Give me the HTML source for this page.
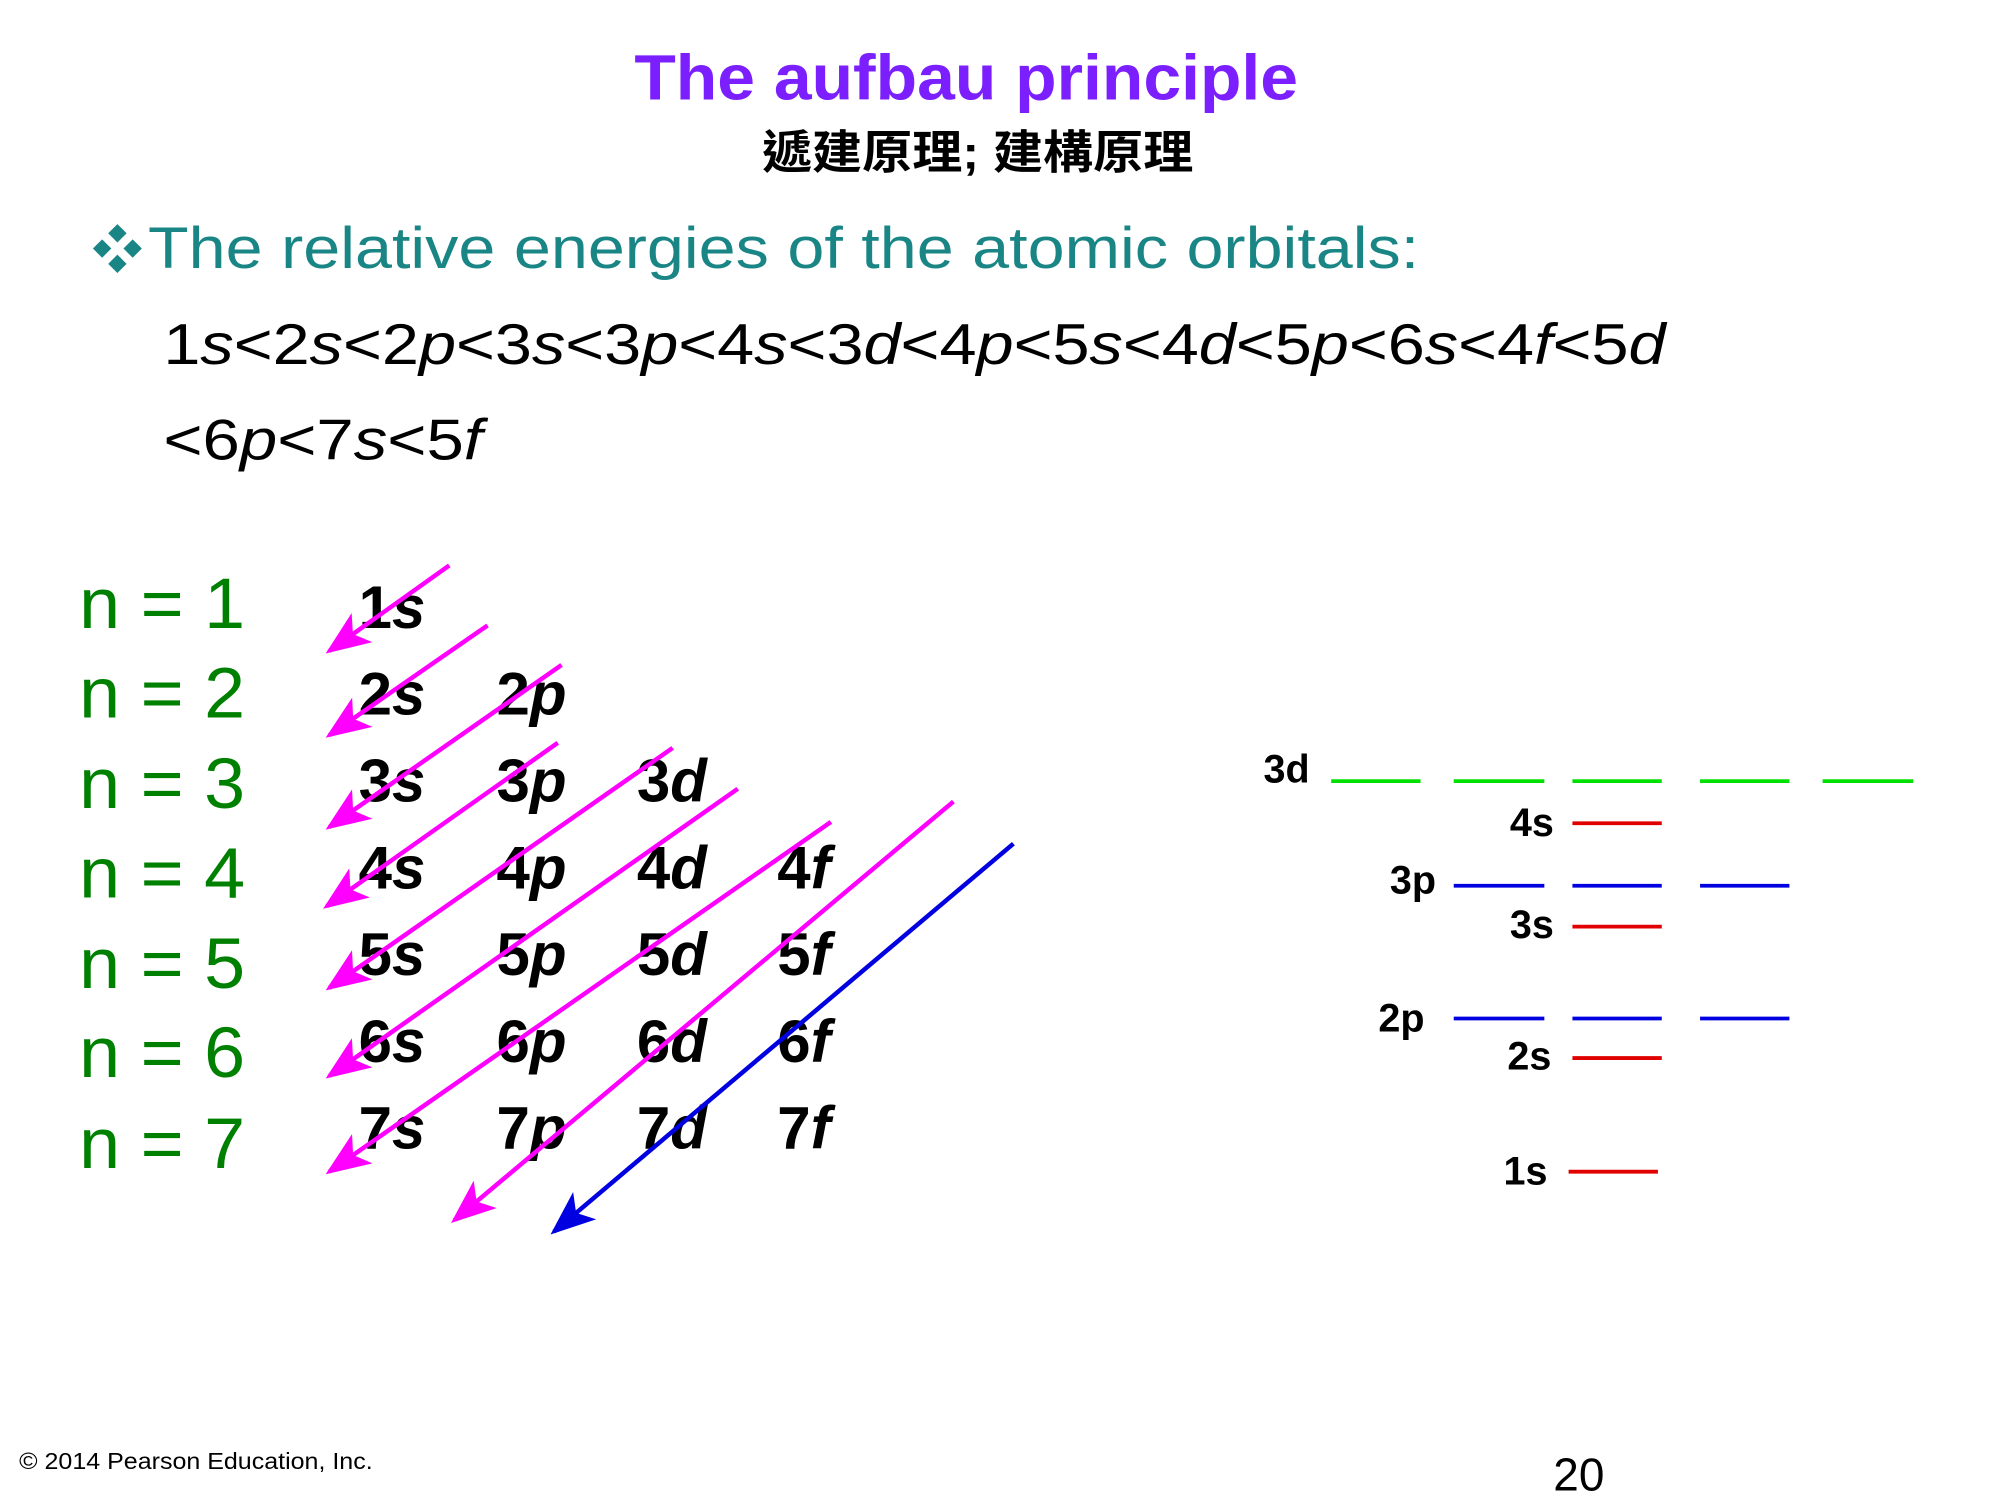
<!DOCTYPE html>
<html><head><meta charset="utf-8"><style>
html,body{margin:0;padding:0;background:#fff;}
svg{display:block;}
text{font-family:"Liberation Sans","Noto Sans CJK TC",sans-serif;}
</style></head><body>
<svg width="2000" height="1500" viewBox="0 0 1567 1175.25" preserveAspectRatio="none" xmlns="http://www.w3.org/2000/svg">
<defs>
<marker id="am" markerWidth="10" markerHeight="8" refX="9" refY="4" orient="auto" markerUnits="strokeWidth"><path d="M0,0 L10,4 L0,8 L2.5,4 z" fill="#ff00ff"/></marker>
<marker id="ab" markerWidth="10" markerHeight="8" refX="9" refY="4" orient="auto" markerUnits="strokeWidth"><path d="M0,0 L10,4 L0,8 L2.5,4 z" fill="#0000e0"/></marker>
</defs>
<text x="497" y="78" font-size="50" font-weight="bold" fill="#7b1fff" textLength="520" lengthAdjust="spacingAndGlyphs">The aufbau principle</text>
<text x="597" y="132" font-size="36" font-weight="bold" fill="#000" textLength="338" lengthAdjust="spacingAndGlyphs">遞建原理; 建構原理</text>
<text x="72" y="210" font-size="40" fill="#1a8585">❖</text>
<text x="116" y="210" font-size="46" fill="#1a8585" textLength="996" lengthAdjust="spacingAndGlyphs">The relative energies of the atomic orbitals:</text>
<text x="128" y="285" font-size="45" fill="#000" textLength="1177" lengthAdjust="spacingAndGlyphs">1<tspan font-style="italic">s</tspan>&lt;2<tspan font-style="italic">s</tspan>&lt;2<tspan font-style="italic">p</tspan>&lt;3<tspan font-style="italic">s</tspan>&lt;3<tspan font-style="italic">p</tspan>&lt;4<tspan font-style="italic">s</tspan>&lt;3<tspan font-style="italic">d</tspan>&lt;4<tspan font-style="italic">p</tspan>&lt;5<tspan font-style="italic">s</tspan>&lt;4<tspan font-style="italic">d</tspan>&lt;5<tspan font-style="italic">p</tspan>&lt;6<tspan font-style="italic">s</tspan>&lt;4<tspan font-style="italic">f</tspan>&lt;5<tspan font-style="italic">d</tspan></text>
<text x="128" y="360" font-size="45" fill="#000" textLength="250" lengthAdjust="spacingAndGlyphs">&lt;6<tspan font-style="italic">p</tspan>&lt;7<tspan font-style="italic">s</tspan>&lt;5<tspan font-style="italic">f</tspan></text>
<g font-size="56" fill="#008000">
<text x="62" y="492" textLength="130" lengthAdjust="spacingAndGlyphs">n = 1</text>
<text x="62" y="562" textLength="130" lengthAdjust="spacingAndGlyphs">n = 2</text>
<text x="62" y="633" textLength="130" lengthAdjust="spacingAndGlyphs">n = 3</text>
<text x="62" y="703" textLength="130" lengthAdjust="spacingAndGlyphs">n = 4</text>
<text x="62" y="774" textLength="130" lengthAdjust="spacingAndGlyphs">n = 5</text>
<text x="62" y="844" textLength="130" lengthAdjust="spacingAndGlyphs">n = 6</text>
<text x="62" y="915" textLength="130" lengthAdjust="spacingAndGlyphs">n = 7</text>
</g>
<g font-size="47" font-weight="bold" fill="#000">
<text x="281" y="492">1<tspan font-style="italic">s</tspan></text>
<text x="281" y="560">2<tspan font-style="italic">s</tspan></text><text x="389" y="560">2<tspan font-style="italic">p</tspan></text>
<text x="281" y="628">3<tspan font-style="italic">s</tspan></text><text x="389" y="628">3<tspan font-style="italic">p</tspan></text><text x="499" y="628">3<tspan font-style="italic">d</tspan></text>
<text x="281" y="696">4<tspan font-style="italic">s</tspan></text><text x="389" y="696">4<tspan font-style="italic">p</tspan></text><text x="499" y="696">4<tspan font-style="italic">d</tspan></text><text x="609" y="696">4<tspan font-style="italic">f</tspan></text>
<text x="281" y="764">5<tspan font-style="italic">s</tspan></text><text x="389" y="764">5<tspan font-style="italic">p</tspan></text><text x="499" y="764">5<tspan font-style="italic">d</tspan></text><text x="609" y="764">5<tspan font-style="italic">f</tspan></text>
<text x="281" y="832">6<tspan font-style="italic">s</tspan></text><text x="389" y="832">6<tspan font-style="italic">p</tspan></text><text x="499" y="832">6<tspan font-style="italic">d</tspan></text><text x="609" y="832">6<tspan font-style="italic">f</tspan></text>
<text x="281" y="900">7<tspan font-style="italic">s</tspan></text><text x="389" y="900">7<tspan font-style="italic">p</tspan></text><text x="499" y="900">7<tspan font-style="italic">d</tspan></text><text x="609" y="900">7<tspan font-style="italic">f</tspan></text>
</g>
<g stroke="#ff00ff" stroke-width="3.5" marker-end="url(#am)">
<line x1="352" y1="443" x2="258" y2="510"/>
<line x1="382" y1="490" x2="258" y2="576"/>
<line x1="440" y1="521" x2="258" y2="648"/>
<line x1="437" y1="582" x2="256" y2="710"/>
<line x1="527" y1="586" x2="258" y2="774"/>
<line x1="578" y1="618" x2="258" y2="843"/>
<line x1="651" y1="644" x2="258" y2="918"/>
<line x1="747" y1="628" x2="356" y2="956"/>
</g>
<line x1="794" y1="661" x2="434" y2="965" stroke="#0000e0" stroke-width="3.5" marker-end="url(#ab)"/>
<g stroke-width="3">
<g stroke="#00e000"><line x1="1043" y1="612" x2="1113" y2="612"/><line x1="1139" y1="612" x2="1210" y2="612"/><line x1="1232" y1="612" x2="1302" y2="612"/><line x1="1332" y1="612" x2="1402" y2="612"/><line x1="1428" y1="612" x2="1499" y2="612"/></g>
<g stroke="#e00000"><line x1="1232" y1="645" x2="1302" y2="645"/><line x1="1232" y1="726" x2="1302" y2="726"/><line x1="1232" y1="829" x2="1302" y2="829"/><line x1="1229" y1="918" x2="1299" y2="918"/></g>
<g stroke="#0000e0"><line x1="1139" y1="694" x2="1210" y2="694"/><line x1="1232" y1="694" x2="1302" y2="694"/><line x1="1332" y1="694" x2="1402" y2="694"/>
<line x1="1139" y1="798" x2="1210" y2="798"/><line x1="1232" y1="798" x2="1302" y2="798"/><line x1="1332" y1="798" x2="1402" y2="798"/></g>
</g>
<g font-size="31" font-weight="bold" fill="#000">
<text x="990" y="613">3d</text>
<text x="1183" y="655">4s</text>
<text x="1089" y="700">3p</text>
<text x="1183" y="735">3s</text>
<text x="1080" y="808">2p</text>
<text x="1181" y="838">2s</text>
<text x="1178" y="928">1s</text>
</g>
<text x="15" y="1151" font-size="18" fill="#000" textLength="277" lengthAdjust="spacingAndGlyphs">© 2014 Pearson Education, Inc.</text>
<text x="1217" y="1168" font-size="36" fill="#000">20</text>
</svg>
</body></html>
